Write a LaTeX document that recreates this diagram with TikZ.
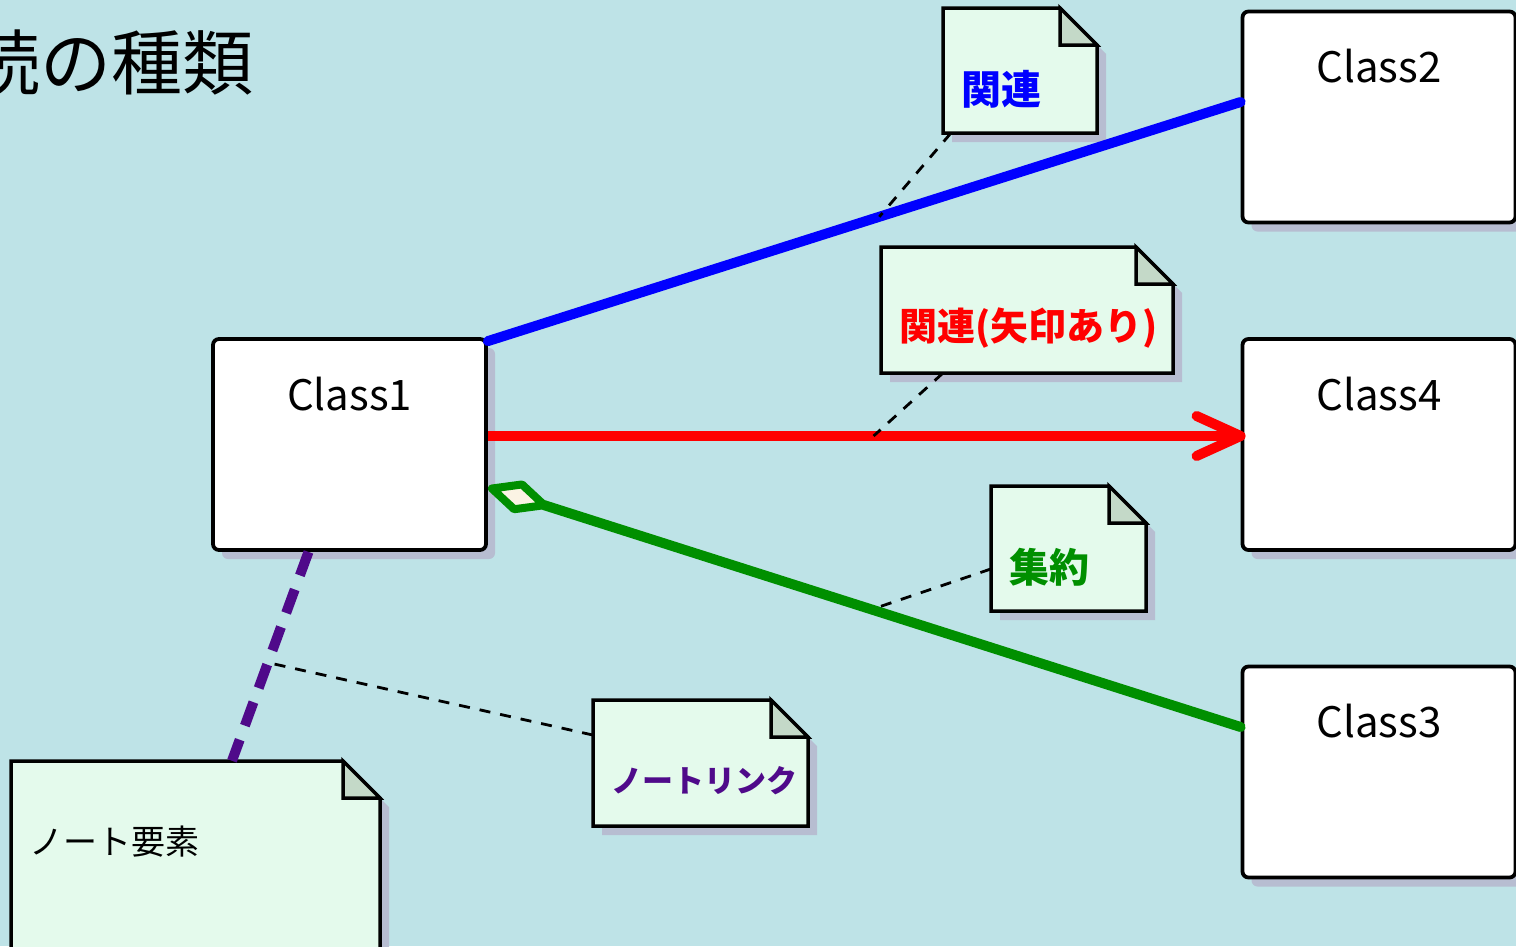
\documentclass[tikz,border=0pt]{standalone}
\usepackage{fontspec}
\setmainfont{Noto Sans CJK JP}
\usetikzlibrary{arrows.meta, shadows, calc}
\definecolor{bgblue}{HTML}{BEE3E7}
\definecolor{shadowgray}{HTML}{B7BDD1}
\definecolor{notegreen}{HTML}{E4FAEC}
\definecolor{foldgreen}{HTML}{C4D9C8}
\definecolor{aggrgreen}{HTML}{008F00}
\definecolor{diamondfill}{HTML}{FBF3E4}
\definecolor{linkpurple}{HTML}{4F0A8A}

\newcommand{\umlnote}[7]{%
  \begin{scope}[shift={(#2,#3)}]
    \fill[shadowgray] (9,9) -- (#4-28,9) -- (#4+9,46) -- (#4+9,#5+9) -- (9,#5+9) -- cycle;
    \filldraw[notebody] (0,0) -- (#4-37,0) -- (#4,37) -- (#4,#5) -- (0,#5) -- cycle;
    \filldraw[notefold] (#4-37,0) -- (#4-37,37) -- (#4,37) -- cycle;
    \node[minimum width=#4, minimum height=#5, inner sep=0pt] (#1) at (#4/2,#5/2) {};
    \node[notetext, #6] (#1-t) at (18,81) {#7};
  \end{scope}}

\begin{document}
\begin{tikzpicture}[x=1pt, y=-1pt,
  classbox/.style={draw, line width=3.8pt, fill=white, rounded corners=6pt, minimum width=273pt, minimum height=211pt, inner sep=0pt, text height=32pt, text depth=101pt, font=\fontsize{42}{50}\selectfont, drop shadow={shadow xshift=9pt, shadow yshift=-9pt, fill=shadowgray, opacity=1}},
  notebody/.style={fill=notegreen, draw=black, line width=3.5pt, line join=miter},
  notefold/.style={fill=foldgreen, draw=black, line width=3.5pt},
  notetext/.style={anchor=west, inner sep=0pt, font=\bfseries\fontsize{40}{48}\selectfont},
  anchorline/.style={draw=black, line width=2.8pt, dash pattern=on 11pt off 10pt},
  assoc/.style={line width=10pt, line cap=round}]
\useasboundingbox (0,0) rectangle (1516,946);
\clip (0,0) rectangle (1516,946);
\fill[bgblue] (0,0) rectangle (1516,946);

\node[anchor=east, inner sep=0pt, font=\fontsize{71}{80}\selectfont] (title) at (254,63) {接続の種類};

\node[classbox] (c1) at (349.5,444.5) {Class1};
\node[classbox] (c2) at (1379,117) {Class2};
\node[classbox] (c4) at (1379,444.5) {Class4};
\node[classbox] (c3) at (1379,772) {Class3};

\umlnote{n1}{943}{8}{154}{125}{text=blue}{関連}
\umlnote{n2}{881}{247}{292}{126}{text=red, font=\bfseries\fontsize{38}{46}\selectfont}{関連(矢印あり)}
\umlnote{n3}{991}{486}{155}{125}{text=aggrgreen}{集約}
\umlnote{n4}{593}{700}{215}{126}{text=linkpurple, font=\bfseries\fontsize{31}{40}\selectfont}{ノートリンク}
\umlnote{n5}{11}{761}{369}{215}{text=black, font=\fontsize{34}{42}\selectfont}{ノート要素}

\draw [assoc, blue] ([yshift=-4pt]c1.north east) -- ([yshift=15pt]c2.west) coordinate[pos=.52] (a1);
\draw [assoc, red, line cap=butt, -{Straight Barb[length=44pt, width=40pt, round]}] ([yshift=8.5pt]c1.east) -- ([xshift=5pt, yshift=8.5pt]c4.west) coordinate[pos=.509] (a2);

\coordinate (g0) at ([xshift=4pt, yshift=-44pt]c1.east);
\coordinate (g1) at ([yshift=45pt]c3.west);
\coordinate (gq) at ($(g0)!55pt!(g1)$);
\coordinate (gm) at ($(g0)!.5!(gq)$);
\filldraw [aggrgreen, fill=diamondfill, line width=8pt, line join=round] (g0) -- ($(gm)!13pt!90:(gq)$) -- (gq) -- ($(gm)!13pt!-90:(gq)$) -- cycle;
\draw [assoc, aggrgreen] (gq) -- (g1) coordinate[pos=.47] (a3);

\draw [linkpurple, line width=10pt, dash pattern=on 25pt off 15pt] ([xshift=-41pt]c1.south) -- ([xshift=36.5pt]n5.north) coordinate[pos=.53] (a4);

\draw [anchorline] ([xshift=8pt]n1.south west) -- (a1);
\draw [anchorline] ([xshift=62pt]n2.south west) -- (a2);
\draw [anchorline] ([yshift=-20.5pt]n3.west) -- (a3);
\draw [anchorline] ([yshift=28pt]n4.west) -- (a4);
\end{tikzpicture}
\end{document}
